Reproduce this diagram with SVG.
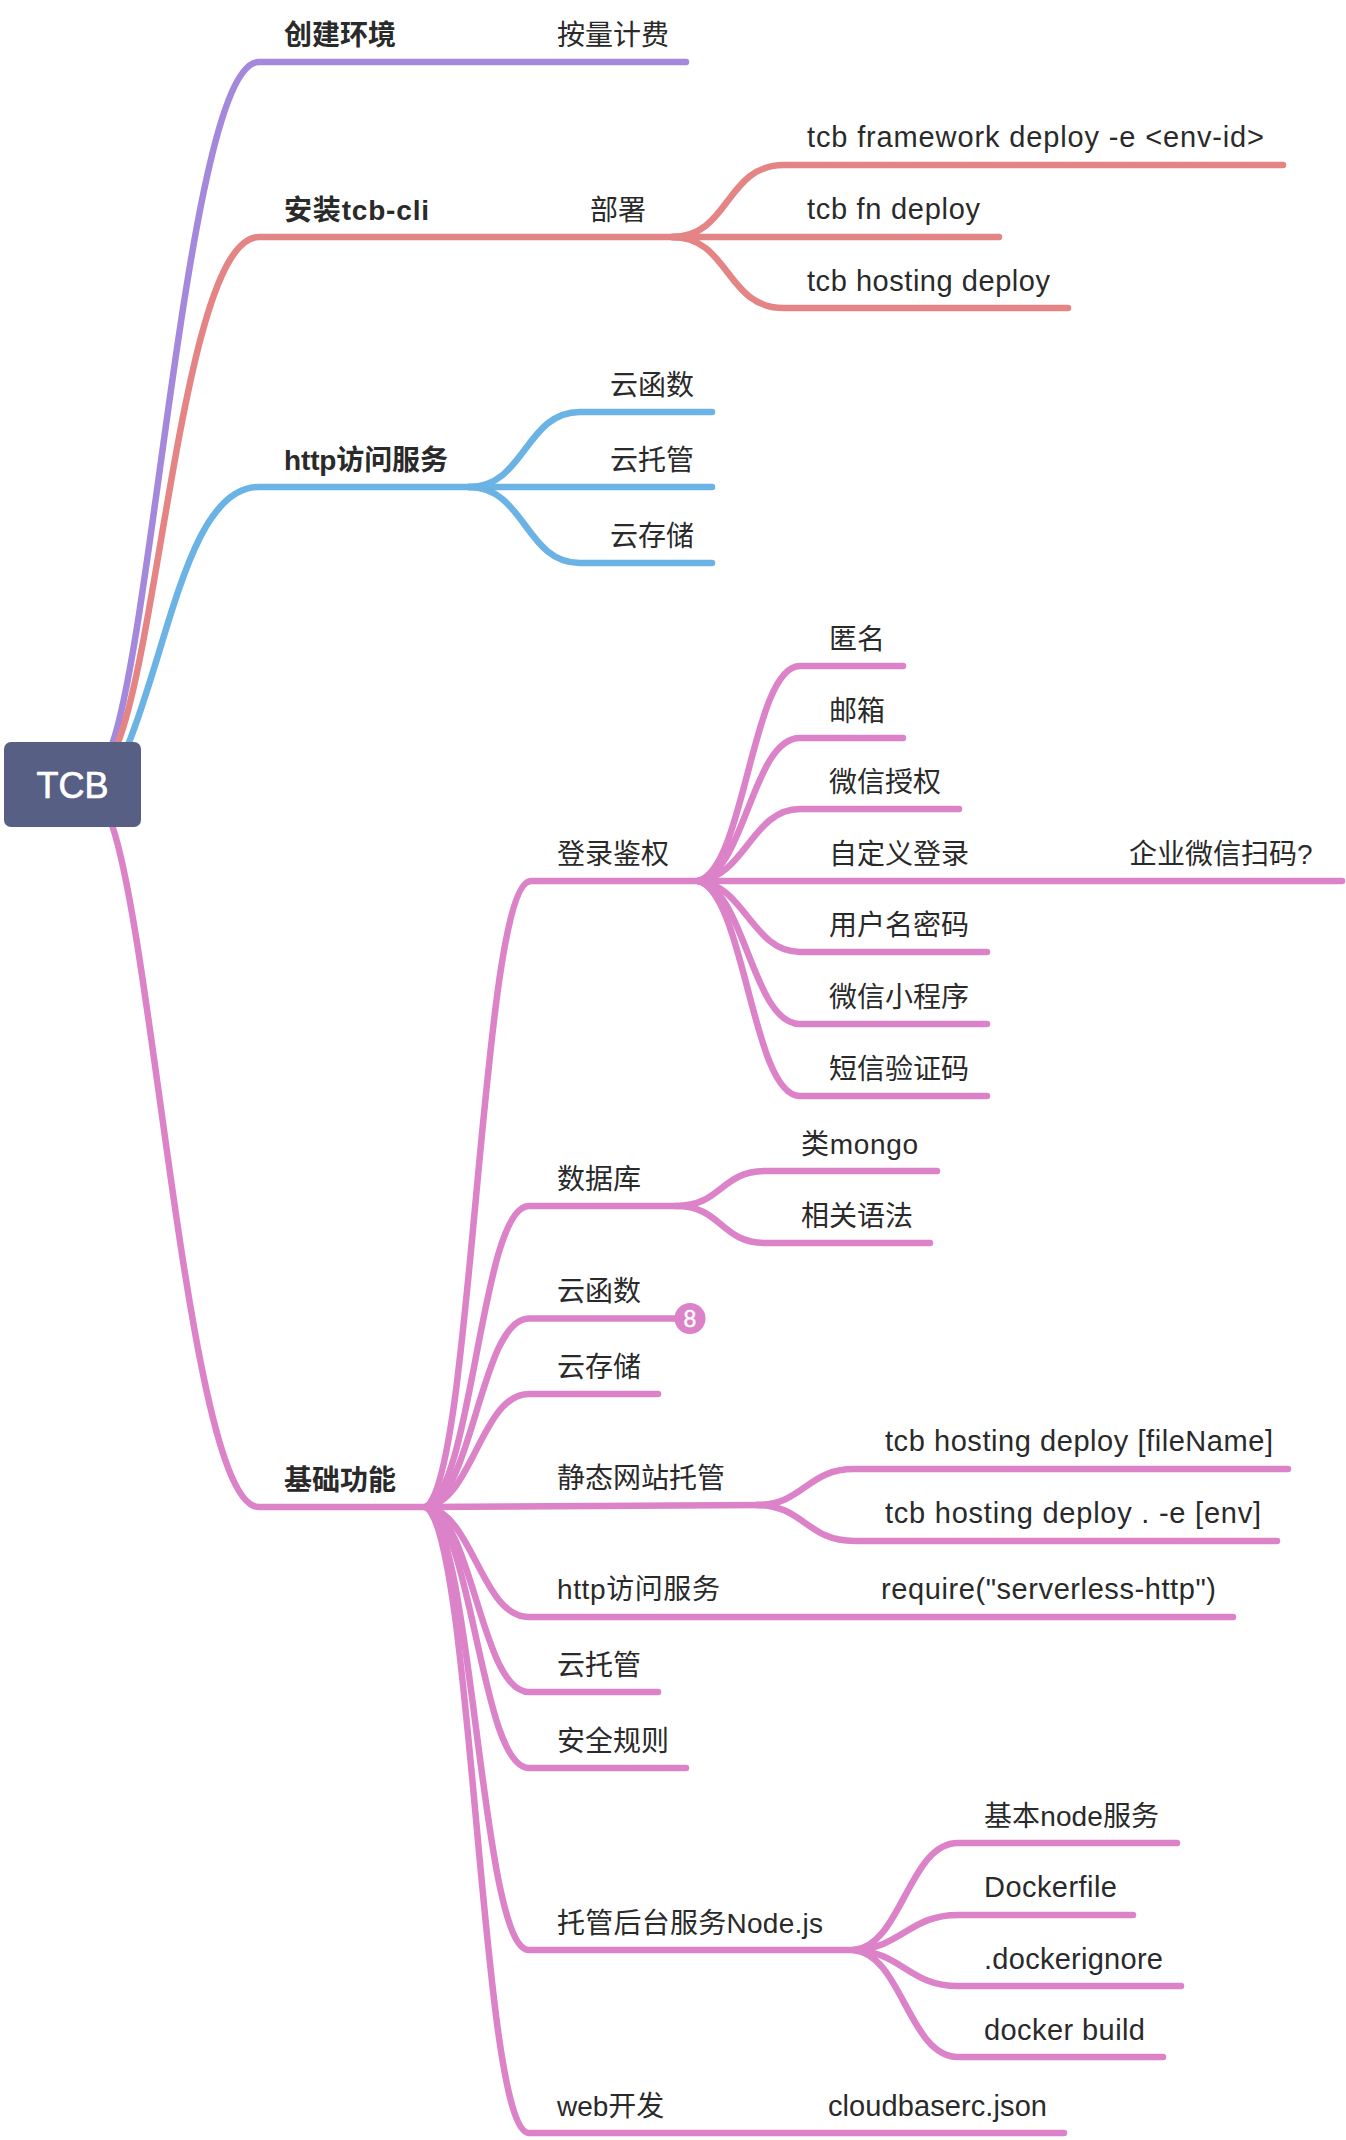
<svg xmlns="http://www.w3.org/2000/svg" width="1346" height="2140" viewBox="0 0 1346 2140">
<style>
text{font-family:"Liberation Sans","Noto Sans CJK SC",sans-serif;font-size:28px;fill:#2a2a2a}
.b{font-weight:600}
.l{font-size:29px}
.c path{fill:none;stroke-width:6.500;stroke-linecap:round;stroke-linejoin:round}
.pu{stroke:#a388dc}.re{stroke:#e58484}.bl{stroke:#6bb2e5}.pi{stroke:#dc82c8}
</style>
<rect width="1346" height="2140" fill="#fff"/>
<g id="connectors" class="c">
<path class="pu" d="M112 745C155 620 190 62 259 62L686 62"/>
<path class="re" d="M117 745C160 640 185 237 259 237L678 237"/>
<path class="re" d="M672 237C730 237 725 165 784 165L1283 165"/>
<path class="re" d="M672 237L999 237"/>
<path class="re" d="M672 237C730 237 725 308 784 308L1068 308"/>
<path class="bl" d="M128 745C170 640 190 487 259 487L469 487"/>
<path class="bl" d="M469 487C525 487 525 412 580 412L712 412"/>
<path class="bl" d="M469 487L712 487"/>
<path class="bl" d="M469 487C525 487 525 563 580 563L712 563"/>
<path class="pi" d="M112 825C155 950 190 1507 259 1507L426 1507"/>
<path class="pi" d="M426 1507C473 1476 481 881 531 881L698 881"/>
<path class="pi" d="M698 881C745 870 752 666 800 666L903 666"/>
<path class="pi" d="M698 881C745 874 752 738 800 738L903 738"/>
<path class="pi" d="M698 881C745 877 752 809 800 809L959 809"/>
<path class="pi" d="M698 881L1342 881"/>
<path class="pi" d="M698 881C745 885 752 952 800 952L987 952"/>
<path class="pi" d="M698 881C745 888 752 1024 800 1024L987 1024"/>
<path class="pi" d="M698 881C745 892 752 1096 800 1096L987 1096"/>
<path class="pi" d="M426 1507C473 1492 481 1206 529 1206L676 1206"/>
<path class="pi" d="M676 1206C722 1206 720 1171 766 1171L937 1171"/>
<path class="pi" d="M676 1206C722 1206 720 1243 766 1243L930 1243"/>
<path class="pi" d="M426 1507C473 1498 481 1318.500 529 1318.500L690 1318.500"/>
<path class="pi" d="M426 1507C473 1501 481 1394 529 1394L658 1394"/>
<path class="pi" d="M426 1507L763 1505"/>
<path class="pi" d="M757 1505C803 1505 807 1469 854 1469L1288 1469"/>
<path class="pi" d="M757 1505C803 1505 807 1541 854 1541L1277 1541"/>
<path class="pi" d="M426 1507C473 1512 481 1617 529 1617L1233 1617"/>
<path class="pi" d="M426 1507C473 1516 481 1692 529 1692L658 1692"/>
<path class="pi" d="M426 1507C473 1520 481 1768 529 1768L686 1768"/>
<path class="pi" d="M426 1507C473 1529 481 1950 529 1950L854 1950"/>
<path class="pi" d="M854 1950C902 1945 909 1843 958 1843L1177 1843"/>
<path class="pi" d="M854 1950C902 1948 909 1915 958 1915L1133 1915"/>
<path class="pi" d="M854 1950C902 1952 909 1986 958 1986L1181 1986"/>
<path class="pi" d="M854 1950C902 1955 909 2057 958 2057L1163 2057"/>
<path class="pi" d="M426 1507C473 1538 481 2133 529 2133L1064 2133"/>
</g>
<g id="root"><rect x="4" y="742" width="137" height="85" rx="7" fill="#585f85"/><text x="72.500" y="798" text-anchor="middle" style="font-size:36px;fill:#fff;stroke:#fff;stroke-width:.7px">TCB</text></g>
<g id="n-env"><text class="b" x="284" y="45">创建环境</text></g>
<g id="n-billing"><text x="557" y="45">按量计费</text></g>
<g id="n-cli"><text class="b" x="284" y="220" textLength="145">安装tcb-cli</text></g>
<g id="n-deploy"><text x="590" y="220">部署</text></g>
<g id="n-d1"><text class="l" x="807" y="147" textLength="457">tcb framework deploy -e &lt;env-id&gt;</text></g>
<g id="n-d2"><text class="l" x="807" y="219" textLength="173">tcb fn deploy</text></g>
<g id="n-d3"><text class="l" x="807" y="291" textLength="243">tcb hosting deploy</text></g>
<g id="n-http"><text class="b" x="284" y="470" textLength="164">http访问服务</text></g>
<g id="n-h1"><text x="610" y="395">云函数</text></g>
<g id="n-h2"><text x="610" y="470">云托管</text></g>
<g id="n-h3"><text x="610" y="546">云存储</text></g>
<g id="n-base"><text class="b" x="284" y="1490">基础功能</text></g>
<g id="n-auth"><text x="557" y="864">登录鉴权</text></g>
<g id="n-a1"><text x="829" y="649">匿名</text></g>
<g id="n-a2"><text x="829" y="721">邮箱</text></g>
<g id="n-a3"><text x="829" y="792">微信授权</text></g>
<g id="n-a4"><text x="829" y="864">自定义登录</text></g>
<g id="n-a4a"><text x="1129" y="864">企业微信扫码?</text></g>
<g id="n-a5"><text x="829" y="935">用户名密码</text></g>
<g id="n-a6"><text x="829" y="1007">微信小程序</text></g>
<g id="n-a7"><text x="829" y="1079">短信验证码</text></g>
<g id="n-db"><text x="557" y="1189">数据库</text></g>
<g id="n-db1"><text x="801" y="1154" textLength="117">类mongo</text></g>
<g id="n-db2"><text x="801" y="1226">相关语法</text></g>
<g id="n-fn"><text x="557" y="1301">云函数</text></g>
<g id="n-badge"><circle cx="690" cy="1318.500" r="15.500" fill="#dc82c8"/><text x="690" y="1326.500" text-anchor="middle" style="font-size:23px;fill:#fff;stroke:#fff;stroke-width:.4px">8</text></g>
<g id="n-store"><text x="557" y="1377">云存储</text></g>
<g id="n-static"><text x="557" y="1488">静态网站托管</text></g>
<g id="n-s1"><text class="l" x="885" y="1451" textLength="388">tcb hosting deploy [fileName]</text></g>
<g id="n-s2"><text class="l" x="885" y="1523" textLength="376">tcb hosting deploy . -e [env]</text></g>
<g id="n-http2"><text x="557" y="1599" textLength="163">http访问服务</text></g>
<g id="n-req"><text class="l" x="881" y="1599" textLength="335">require("serverless-http")</text></g>
<g id="n-run"><text x="557" y="1675">云托管</text></g>
<g id="n-sec"><text x="557" y="1751">安全规则</text></g>
<g id="n-node"><text x="557" y="1933" textLength="266">托管后台服务Node.js</text></g>
<g id="n-n1"><text x="984" y="1826" textLength="175">基本node服务</text></g>
<g id="n-n2"><text class="l" x="984" y="1897" textLength="133">Dockerfile</text></g>
<g id="n-n3"><text class="l" x="984" y="1969" textLength="179">.dockerignore</text></g>
<g id="n-n4"><text class="l" x="984" y="2040" textLength="161">docker build</text></g>
<g id="n-web"><text x="557" y="2116">web开发</text></g>
<g id="n-rc"><text class="l" x="828" y="2116" textLength="219">cloudbaserc.json</text></g>
</svg>
